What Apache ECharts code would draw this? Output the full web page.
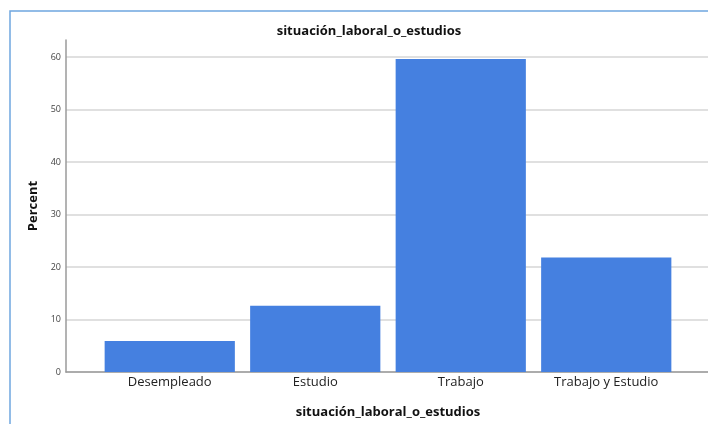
<!DOCTYPE html>
<html>
<head>
<meta charset="utf-8">
<script src="https://cdn.jsdelivr.net/npm/echarts@6/dist/echarts.min.js"></script>
<style>
  html, body { margin: 0; padding: 0; background: #fff; }
  #chart { width: 708px; height: 424px; }
</style>
</head>
<body>
<div id="chart"></div>
<script>
// data
const categories = ['Desempleado', 'Estudio', 'Trabajo', 'Trabajo y Estudio'];
const percents = [5.9, 12.6, 59.6, 21.8];
const yTicks = [0, 10, 20, 30, 40, 50, 60];

const font = 'Open Sans';
// y axis line reaches a bit above the 60 gridline
const yTop = 40, y60 = 57, y0 = 372;
const axisMax = 60 * (y0 - yTop) / (y0 - y60);

const chart = echarts.init(document.getElementById('chart'));
chart.setOption({
  animation: false,
  textStyle: { fontFamily: font },
  title: {
    text: 'situación_laboral_o_estudios',
    left: 364,
    top: 20,
    textAlign: 'center',
    textStyle: { fontSize: 13, fontWeight: 'bold', color: '#111', fontFamily: font }
  },
  graphic: [{
    type: 'rect',
    shape: { x: 10, y: 11, width: 760, height: 460 },
    style: { fill: 'none', stroke: '#6fa6e0', lineWidth: 1.5 },
    silent: true
  }],
  grid: [
    // background grid: gridlines + tick labels, full width
    { left: 66, right: 0, top: y60, bottom: 424 - y0, outerBoundsMode: 'none' },
    // bars
    { left: 97, right: 29, top: yTop, bottom: 424 - y0, outerBoundsMode: 'none' }
  ],
  xAxis: [{
    gridIndex: 0,
    type: 'value',
    min: 0,
    max: 1,
    axisLine: { show: true, lineStyle: { color: '#9a9a9a', width: 1.5 } },
    axisTick: { show: false },
    axisLabel: { show: false },
    splitLine: { show: false }
  }, {
    gridIndex: 1,
    type: 'category',
    data: categories,
    axisLine: { show: false },
    axisTick: { show: false },
    axisLabel: { margin: 4, fontSize: 13, color: '#222', fontFamily: font },
    name: 'situación_laboral_o_estudios',
    nameLocation: 'middle',
    nameGap: 34,
    nameTextStyle: { fontSize: 13, fontWeight: 'bold', color: '#111', fontFamily: font }
  }],
  yAxis: [{
    gridIndex: 0,
    type: 'value',
    min: yTicks[0],
    max: yTicks[yTicks.length - 1],
    interval: yTicks[1] - yTicks[0],
    axisLine: { show: false },
    axisTick: { show: false },
    axisLabel: { margin: 5, fontSize: 9, color: '#444', fontFamily: font },
    splitLine: { lineStyle: { color: '#d6d6d6', width: 1.5 } }
  }, {
    gridIndex: 1,
    type: 'value',
    min: 0,
    max: axisMax,
    offset: 31,
    axisLine: { show: true, lineStyle: { color: '#9a9a9a', width: 1.5 } },
    axisTick: { show: false },
    axisLabel: { show: false },
    splitLine: { show: false },
    name: 'Percent',
    nameLocation: 'middle',
    nameGap: 26,
    nameTextStyle: { fontSize: 13, fontWeight: 'bold', color: '#111', fontFamily: font }
  }],
  series: [{
    type: 'bar',
    xAxisIndex: 1,
    yAxisIndex: 1,
    data: percents,
    barCategoryGap: '10.5%',
    itemStyle: { color: '#4580e0' }
  }]
});
</script>
</body>
</html>
